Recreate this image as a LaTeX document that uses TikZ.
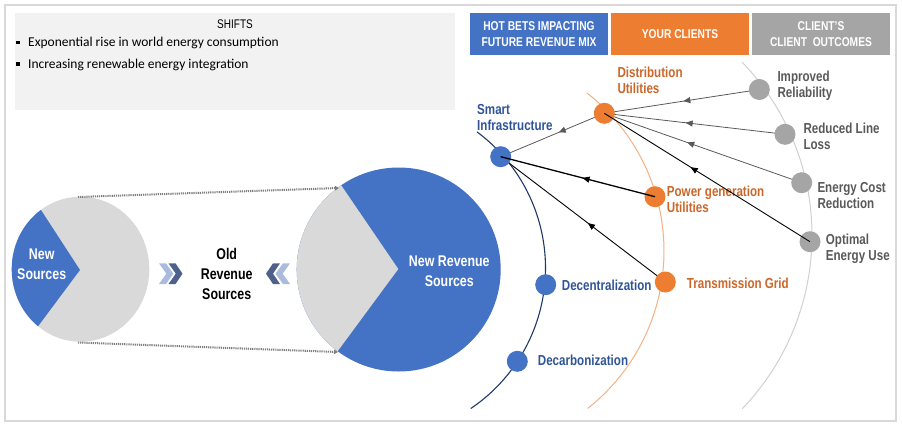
\documentclass[tikz,border=0pt]{standalone}
\usepackage{fontspec}
\setmainfont{Liberation Sans}
\newfontfamily\narrowfont[FakeStretch=0.8]{Liberation Sans}
\newfontfamily\calibfont{Carlito}
\usetikzlibrary{arrows.meta,decorations.markings}
\pgfdeclarelayer{bg}
\pgfsetlayers{bg,main}
\definecolor{cblue}{HTML}{4472C4}
\definecolor{cbluetxt}{HTML}{2F5597}
\definecolor{cnavy}{HTML}{203864}
\definecolor{corange}{HTML}{ED7D31}
\definecolor{corangetxt}{RGB}{204,102,41}
\definecolor{corangearc}{HTML}{F4B183}
\definecolor{cgray}{HTML}{A5A5A5}
\definecolor{cgraytxt}{HTML}{595959}
\definecolor{cgrayarc}{HTML}{D0D0D0}
\definecolor{cframe}{HTML}{D9D9D9}
\definecolor{cbox}{HTML}{F2F2F2}
\definecolor{cpie}{HTML}{D9D9D9}
\definecolor{cline}{HTML}{595959}
\definecolor{cchevL}{RGB}{170,187,222}
\definecolor{cchevD}{RGB}{80,96,140}
\definecolor{cdot}{HTML}{7F7F7F}
\tikzset{
  dotnode/.style={circle, minimum size=21pt, inner sep=0pt},
  bdot/.style={dotnode, fill=cblue},
  odot/.style={dotnode, fill=corange},
  gdot/.style={dotnode, fill=cgray},
  lbl/.style={font=\narrowfont\bfseries\fontsize{14.5}{16}\selectfont, inner sep=0pt, anchor=west, align=left},
  hdr/.style={font=\narrowfont\bfseries\fontsize{12.8}{16.6}\selectfont, text=white, align=center, minimum width=138pt, minimum height=42pt, inner sep=0pt},
  bigtxt/.style={font=\narrowfont\bfseries\fontsize{15.5}{20}\selectfont, align=center, inner sep=0pt},
  bullettxt/.style={font=\calibfont\fontsize{13.5}{16}\selectfont, anchor=west, inner sep=0pt},
  conn/.style={draw=cline, line width=0.8pt},
  blackconn/.style={draw=black, line width=0.9pt},
  midarrow/.style={postaction={decorate}, decoration={markings, mark=at position #1 with {\arrow{Triangle[length=7pt,width=6pt]}}}},
  dotline/.style={draw=cdot, line width=2pt, dash pattern=on 1.2pt off 0.9pt, -{Triangle[length=4pt,width=4.5pt]}},
}
\newcommand{\bulletsq}{\rule[0.2em]{3.5pt}{3.5pt}\hspace{8.5pt}}
\begin{document}
\begin{tikzpicture}[x=1pt,y=-1pt]
\useasboundingbox (0,0) rectangle (902,426);
\draw[cframe, line width=1.5pt] (5,5) rectangle (896,421);

% shifts box
\node[fill=cbox, minimum width=440pt, minimum height=97pt, inner sep=0pt] (shifts) at (235,61.5) {};
\node[font=\narrowfont\fontsize{12.5}{14}\selectfont, inner sep=0pt] (shtitle) at (235,24.5) {SHIFTS};
\node[bullettxt] (b1) at (16,43.3) {\bulletsq Exponential rise in world energy consumption};
\node[bullettxt] (b2) at (16,64.7) {\bulletsq Increasing renewable energy integration};

% headers
\node[hdr, fill=cblue] (h1) at (539,34) {HOT BETS IMPACTING\\FUTURE REVENUE MIX};
\node[hdr, fill=corange] (h2) at (680,34) {YOUR CLIENTS};
\node[hdr, fill=cgray] (h3) at (821,34) {CLIENT’S\\CLIENT\ \ OUTCOMES};

% left pie
\fill[cpie] (80.5,269.2) ellipse [x radius=68.8, y radius=72.5];
\begin{scope}
  \clip (80.5,269.2) ellipse [x radius=68.8, y radius=72.5];
  \fill[cblue] (80,270) -- (2,150) -- (-100,150) -- (-100,400) -- (-4.6,383.4) -- cycle;
\end{scope}
\node[bigtxt, text=white] (newsrc) at (41.7,264.2) {New\\Sources};

% right pie
\fill[cblue] (398.7,269.5) circle [radius=102];
\begin{scope}
  \clip (398.7,269.5) circle [radius=102];
  \fill[cpie] (398.3,269) -- (285.1,103) -- (200,103) -- (200,440) -- (276.3,434.4) -- cycle;
\end{scope}
\node[bigtxt, text=white] (newrev) at (449.3,271.3) {New Revenue\\Sources};

% middle text and chevrons
\node[bigtxt, text=black] (oldrev) at (226.7,274.2) {Old\\Revenue\\Sources};
\fill[cchevL] (159,263.3) -- (166,263.3) -- (173.3,273.7) -- (166,284) -- (159,284) -- (166.3,273.7) -- cycle;
\fill[cchevD] (168.5,263.3) -- (175.5,263.3) -- (182.5,273.7) -- (175.5,284) -- (168.5,284) -- (175.8,273.7) -- cycle;
\fill[cchevD] (280,263.3) -- (273,263.3) -- (266,273.7) -- (273,284) -- (280,284) -- (273,273.7) -- cycle;
\fill[cchevL] (290,263.3) -- (283,263.3) -- (275.5,273.7) -- (283,284) -- (290,284) -- (282.7,273.7) -- cycle;

% dotted connectors
\coordinate (lt) at (78,197);
\coordinate (lb) at (78,342.5);
\coordinate (rt) at (339,188);
\coordinate (rb) at (338,352);
\draw[dotline] (lt) -- (rt);
\draw[dotline] (lb) -- (rb);

% arcs
\begin{pgfonlayer}{bg}
\draw[cnavy, line width=1.1pt] plot[domain=-53.4:56, samples=80, smooth] ({376+169.5*cos(\x)}, {268+169.5*sin(\x)});
\draw[corangearc, line width=1pt] plot[domain=-52:51.7, samples=80, smooth] ({463.4+200.6*cos(\x)}, {251+200.6*sin(\x)});
\draw[cgrayarc, line width=1pt] plot[domain=-43.9:43.9, samples=80, smooth] ({562+250*cos(\x)}, {235.5+250*sin(\x)});
\end{pgfonlayer}

% nodes
\node[bdot] (si) at (500.7,156.7) {};
\node[bdot] (dcen) at (545.7,284.7) {};
\node[bdot] (dcarb) at (517.3,361.3) {};
\node[odot] (du) at (604.3,113.3) {};
\node[odot] (pg) at (655,196.7) {};
\node[odot] (tg) at (665.3,282) {};
\node[gdot] (ir) at (759.3,89.5) {};
\node[gdot] (rl) at (785,134.3) {};
\node[gdot] (ec) at (801.7,182.7) {};
\node[gdot] (oe) at (810,241.7) {};

% labels
\node[lbl, text=corangetxt] (dul) at (617.3,80) {Distribution\\Utilities};
\node[lbl, text=cbluetxt] (sil) at (477,118) {Smart\\Infrastructure};
\node[lbl, text=corangetxt] (pgl) at (666.7,199.5) {Power generation\\Utilities};
\node[lbl, text=corangetxt] (tgl) at (686.7,283.3) {Transmission Grid};
\node[lbl, text=cbluetxt] (dcenl) at (561.7,285) {Decentralization};
\node[lbl, text=cbluetxt] (dcarbl) at (537.7,360.7) {Decarbonization};
\node[lbl, text=cgraytxt] (irl) at (777.3,85.5) {Improved\\Reliability};
\node[lbl, text=cgraytxt] (rll) at (803.3,136.3) {Reduced Line\\Loss};
\node[lbl, text=cgraytxt] (ecl) at (817.3,195.3) {Energy Cost\\Reduction};
\node[lbl, text=cgraytxt] (oel) at (825.7,248.4) {Optimal\\Energy Use};

% connectors behind nodes
\begin{pgfonlayer}{bg}
\draw[conn, midarrow=0.49] (ir.center) -- (du.center);
\draw[conn, midarrow=0.55] (rl.center) -- (du.center);
\draw[conn, midarrow=0.58] (ec.center) -- (du.center);
\draw[conn, midarrow=0.44] (du.center) -- (si.center);
\draw[blackconn, midarrow=0.47] (tg.center) -- (si.center);
\end{pgfonlayer}
% connectors over nodes
\draw[blackconn, midarrow=0.58] (oe.center) -- (du.center);
\draw[blackconn, line width=1.3pt, midarrow=0.47] (pg.center) -- (si.center);
\end{tikzpicture}
\end{document}
